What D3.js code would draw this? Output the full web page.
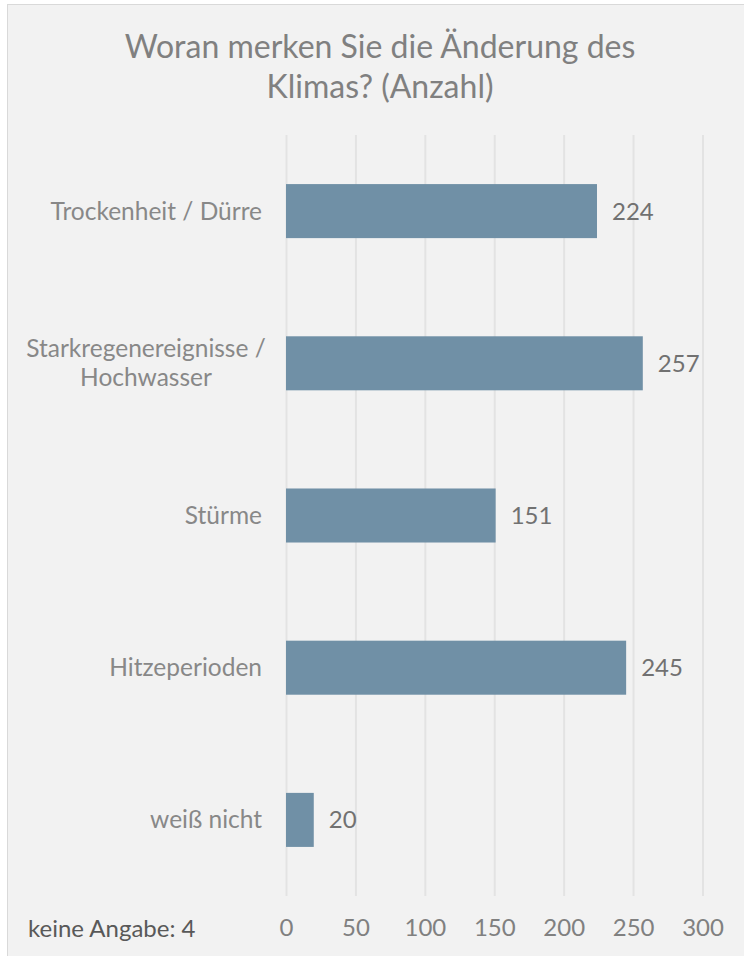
<!DOCTYPE html>
<html>
<head>
<meta charset="utf-8">
<script src="https://cdn.jsdelivr.net/npm/d3@7"></script>
<style>
  body { margin: 0; background: #fff; }
  svg text { font-family: Lato, "Open Sans", sans-serif; }
</style>
</head>
<body>
<script>
// data
var categories = [
    ["Trockenheit / Dürre"],
    ["Starkregenereignisse /", "Hochwasser"],
    ["Stürme"],
    ["Hitzeperioden"],
    ["weiß nicht"]
];
var values = [224, 257, 151, 245, 20];
var ticks = [0, 50, 100, 150, 200, 250, 300];
var titleLines = ["Woran merken Sie die Änderung des", "Klimas? (Anzahl)"];
var footnote = "keine Angabe: 4";

var width = 744
    , height = 956
    , plotLeft = 286
    , plotRight = 702.5
    , plotTop = 135
    , plotBottom = 896
    ;

var svg = d3.select("body").append("svg")
    .attr("width", width)
    .attr("height", height);

svg.append("rect")
    .attr("x", 7.5).attr("y", 4.5)
    .attr("width", 745).attr("height", 960)
    .attr("fill", "#f2f2f2")
    .attr("stroke", "#d9d9d9");

svg.append("text")
    .attr("text-anchor", "middle")
    .attr("fill", "#808080")
    .attr("font-size", 32)
    .selectAll("tspan")
    .data(titleLines)
    .join("tspan")
    .attr("x", 380)
    .attr("y", function(d, i) { return 58 + i * 40; })
    .text(function(d) { return d; });

var x = d3.scaleLinear()
    .domain([0, 300])
    .range([plotLeft, plotRight]);

var y = d3.scaleBand()
    .domain(d3.range(values.length))
    .range([plotTop, plotBottom])
    .paddingInner(0.645)
    .paddingOuter(0.3225);

var xAxis = d3.axisBottom(x)
    .tickValues(ticks)
    .tickSize(-(plotBottom - plotTop))
    .tickPadding(20);

var gx = svg.append("g")
    .attr("transform", "translate(0," + plotBottom + ")")
    .call(xAxis);

gx.select(".domain").remove();
gx.selectAll(".tick line")
    .attr("stroke", "#e3e3e3")
    .attr("stroke-width", 2);
gx.selectAll(".tick text")
    .attr("fill", "#808080")
    .attr("font-size", 24)
    .attr("dy", "0.35em")
    .attr("y", 32);

svg.append("g")
    .selectAll("rect")
    .data(values)
    .join("rect")
    .attr("x", x(0))
    .attr("y", function(d, i) { return y(i); })
    .attr("width", function(d) { return x(d) - x(0); })
    .attr("height", y.bandwidth())
    .attr("fill", "#7090a6");

svg.append("g")
    .selectAll("text")
    .data(values)
    .join("text")
    .attr("x", function(d) { return x(d) + 15; })
    .attr("y", function(d, i) { return y(i) + y.bandwidth() / 2; })
    .attr("dy", "0.35em")
    .attr("fill", "#717171")
    .attr("font-size", 24)
    .text(function(d) { return d; });

var labels = svg.append("g")
    .selectAll("text")
    .data(categories)
    .join("text")
    .attr("fill", "#888888")
    .attr("font-size", 24.5);

labels.each(function(lines, i) {
    var cy = y(i) + y.bandwidth() / 2;
    var t = d3.select(this);
    var multi = lines.length > 1;
    t.attr("text-anchor", multi ? "middle" : "end");
    t.selectAll("tspan")
        .data(lines)
        .join("tspan")
        .attr("x", multi ? 146 : 262)
        .attr("y", function(d, j) { return cy + (j - (lines.length - 1) / 2) * 29; })
        .attr("dy", "0.35em")
        .text(function(d) { return d; });
});

svg.append("text")
    .attr("x", 28)
    .attr("y", 929)
    .attr("dy", "0.35em")
    .attr("fill", "#595959")
    .attr("font-size", 24)
    .text(footnote);
</script>
</body>
</html>
